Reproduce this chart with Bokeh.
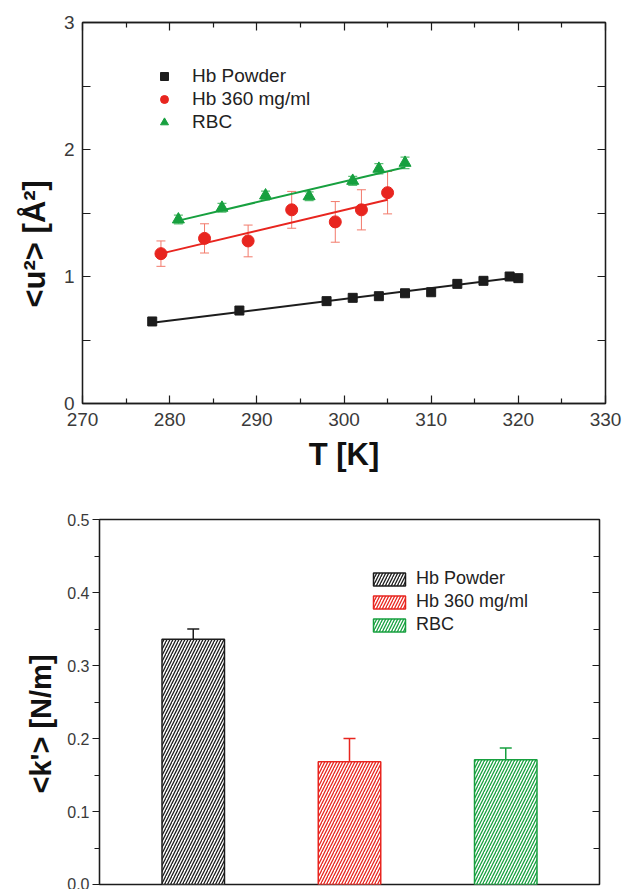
import math
from bokeh.plotting import figure
from bokeh.models import (ColumnDataSource, Whisker, TeeHead, Legend, LegendItem,
                          LinearAxis, Range1d, FixedTicker, PrintfTickFormatter, Title, Spacer)
from bokeh.layouts import column, row
from bokeh.embed import file_html
from bokeh.resources import INLINE

FONT = "Liberation Sans"
BLACK = "#1c1c1c"
RED = "#e8251f"
GREEN = "#17a03f"
RED_ERR = "#f27a6b"
GREEN_ERR = "#5cbf75"
TICK_COLOR = "#3a3a3a"

# ---------------- data: top panel ----------------
T_powder = [278, 288, 298, 301, 304, 307, 310, 313, 316, 319, 320]
u2_powder = [0.646, 0.732, 0.806, 0.832, 0.845, 0.868, 0.876, 0.942, 0.966, 1.000, 0.987]

T_hb360 = [279, 284, 289, 294, 299, 302, 305]
u2_hb360 = [1.18, 1.30, 1.28, 1.525, 1.43, 1.525, 1.66]
err_hb360 = [0.10, 0.115, 0.125, 0.145, 0.16, 0.158, 0.167]

T_rbc = [281, 286, 291, 296, 301, 304, 307]
u2_rbc = [1.449, 1.541, 1.638, 1.632, 1.753, 1.848, 1.895]
err_rbc = [0.035, 0.035, 0.035, 0.035, 0.035, 0.04, 0.045]

fit_T_powder = [278, 319.5]
fit_u2_powder = [0.635, 0.99]
fit_T_hb360 = [279, 305]
fit_u2_hb360 = [1.18, 1.605]
fit_T_rbc = [281, 307]
fit_u2_rbc = [1.44, 1.86]

x_ticks_top = [270, 280, 290, 300, 310, 320, 330]
x_minor_top = [275, 285, 295, 305, 315, 325]
y_ticks_top = [0, 1, 2, 3]
y_minor_top = [0.5, 1.5, 2.5]

# ---------------- data: bottom panel ----------------
categories = ["Hb Powder", "Hb 360 mg/ml", "RBC"]
k_values = [0.336, 0.168, 0.171]
k_err = [0.014, 0.032, 0.016]
y_ticks_bot = [0.0, 0.1, 0.2, 0.3, 0.4, 0.5]
y_minor_bot = [0.05, 0.15, 0.25, 0.35, 0.45]


def style_axis(ax, font_size="19px"):
    ax.axis_line_color = BLACK
    ax.axis_line_width = 1.3
    ax.major_tick_line_color = BLACK
    ax.minor_tick_line_color = BLACK
    ax.major_tick_line_width = 1.2
    ax.minor_tick_line_width = 1.2
    ax.major_label_text_font = FONT
    ax.major_label_text_font_size = font_size
    ax.major_label_text_color = TICK_COLOR


def mirror_axis(ticker, ticks, major_in, minor_in):
    ax = LinearAxis(ticker=ticker, major_label_standoff=0,
                    major_label_overrides={t: "" for t in ticks})
    style_axis(ax)
    ax.major_tick_in = major_in
    ax.major_tick_out = 0
    ax.minor_tick_in = minor_in
    ax.minor_tick_out = 0
    return ax


# ================= top figure =================
p1 = figure(width=622, height=480, x_range=Range1d(270, 330), y_range=Range1d(0, 3),
            output_backend="svg", toolbar_location=None,
            min_border_left=82, min_border_right=17, min_border_top=22, min_border_bottom=77)
p1.xgrid.visible = False
p1.ygrid.visible = False
p1.outline_line_color = BLACK
p1.outline_line_width = 1.3
p1.background_fill_color = "white"
p1.border_fill_color = "white"

xt = FixedTicker(ticks=x_ticks_top, minor_ticks=x_minor_top)
yt = FixedTicker(ticks=y_ticks_top, minor_ticks=y_minor_top)

xa = p1.xaxis[0]
xa.ticker = xt
style_axis(xa)
xa.major_tick_in = 8
xa.major_tick_out = 0
xa.minor_tick_in = 5
xa.minor_tick_out = 0
xa.major_label_standoff = 9
xa.axis_label = "T [K]"
xa.axis_label_text_font = FONT
xa.axis_label_text_font_size = "31px"
xa.axis_label_text_font_style = "bold"
xa.axis_label_text_color = "#111111"
xa.axis_label_standoff = 8

ya = p1.yaxis[0]
ya.ticker = yt
style_axis(ya)
ya.major_tick_in = 8
ya.major_tick_out = 0
ya.minor_tick_in = 8
ya.minor_tick_out = 0
ya.major_label_standoff = 8

p1.add_layout(mirror_axis(xt, x_ticks_top, 8, 5), "above")
p1.add_layout(mirror_axis(yt, y_ticks_top, 8, 8), "right")

# fit lines
p1.line(fit_T_powder, fit_u2_powder, line_color=BLACK, line_width=2)
p1.line(fit_T_hb360, fit_u2_hb360, line_color=RED, line_width=2)
p1.line(fit_T_rbc, fit_u2_rbc, line_color=GREEN, line_width=2)

# error bars
src_hb = ColumnDataSource(dict(x=T_hb360, y=u2_hb360,
                               lo=[u - e for u, e in zip(u2_hb360, err_hb360)],
                               hi=[u + e for u, e in zip(u2_hb360, err_hb360)]))
src_rbc = ColumnDataSource(dict(x=T_rbc, y=u2_rbc,
                                lo=[u - e for u, e in zip(u2_rbc, err_rbc)],
                                hi=[u + e for u, e in zip(u2_rbc, err_rbc)]))
src_pw = ColumnDataSource(dict(x=T_powder, y=u2_powder))

p1.add_layout(Whisker(source=src_hb, base="x", lower="lo", upper="hi",
                      line_color=RED_ERR, line_width=1,
                      upper_head=TeeHead(size=9, line_color=RED_ERR, line_width=1),
                      lower_head=TeeHead(size=9, line_color=RED_ERR, line_width=1)))
p1.add_layout(Whisker(source=src_rbc, base="x", lower="lo", upper="hi",
                      line_color=GREEN_ERR, line_width=1,
                      upper_head=TeeHead(size=9, line_color=GREEN_ERR, line_width=1.2),
                      lower_head=TeeHead(size=9, line_color=GREEN_ERR, line_width=1.2)))

r_pw = p1.scatter("x", "y", source=src_pw, marker="square", size=9,
                  fill_color=BLACK, line_color=BLACK)
r_hb = p1.scatter("x", "y", source=src_hb, marker="circle", size=12,
                  fill_color=RED, line_color=RED)
r_rbc = p1.scatter("x", "y", source=src_rbc, marker="triangle", size=12,
                   fill_color=GREEN, line_color=GREEN)

leg1 = Legend(items=[LegendItem(label=categories[0], renderers=[r_pw]),
                     LegendItem(label=categories[1], renderers=[r_hb]),
                     LegendItem(label=categories[2], renderers=[r_rbc])],
              location=(72, 270), glyph_width=20, glyph_height=20, label_height=20,
              spacing=1, padding=0, margin=0, label_standoff=18,
              border_line_alpha=0, background_fill_alpha=0,
              label_text_font=FONT, label_text_font_size="19px",
              label_text_color="#222222")
p1.add_layout(leg1)

p1.add_layout(Title(text="<u²> [Å²]", align="left", offset=96, standoff=15,
                    vertical_align="middle",
                    text_font=FONT, text_font_size="31px", text_font_style="bold",
                    text_color="#111111"), "left")

# ================= bottom figure =================
p2 = figure(width=612, height=409, x_range=Range1d(0.4, 3.6), y_range=Range1d(0, 0.5),
            output_backend="svg", toolbar_location=None,
            min_border_left=89, min_border_right=23, min_border_top=39, min_border_bottom=5)
p2.xgrid.visible = False
p2.ygrid.visible = False
p2.xaxis.visible = False
p2.outline_line_color = BLACK
p2.outline_line_width = 1.3
p2.border_fill_color = "white"

ytb = FixedTicker(ticks=y_ticks_bot, minor_ticks=y_minor_bot)
ya2 = p2.yaxis[0]
ya2.ticker = ytb
ya2.formatter = PrintfTickFormatter(format="%.1f")
style_axis(ya2, "16px")
ya2.major_tick_in = 0
ya2.major_tick_out = 7
ya2.minor_tick_in = 0
ya2.minor_tick_out = 5
ya2.major_label_standoff = 3

p2.add_layout(mirror_axis(ytb, y_ticks_bot, 7, 6), "right")

bar_colors = [BLACK, RED, GREEN]
positions = [i + 1 for i in range(len(categories))]
src_bar = ColumnDataSource(dict(x=positions, top=k_values, cat=categories, color=bar_colors,
                                lo=[v - e for v, e in zip(k_values, k_err)],
                                hi=[v + e for v, e in zip(k_values, k_err)]))
bars = p2.vbar(x="x", top="top", width=0.4, bottom=0, source=src_bar,
               fill_color="white", line_color="color", line_width=1.5,
               hatch_pattern="/", hatch_color="color", hatch_scale=6, hatch_weight=1.3)
p2.add_layout(Whisker(source=src_bar, base="x", lower="lo", upper="hi",
                      line_color="color", line_width=1.5,
                      upper_head=TeeHead(size=12, line_color="color", line_width=1.5),
                      lower_head=TeeHead(size=8, line_color="color", line_width=1.5)))

leg2 = Legend(items=[LegendItem(label=c, renderers=[bars], index=i) for i, c in enumerate(categories)],
              location=(270, 249), glyph_width=40, glyph_height=16, label_height=16,
              spacing=2, padding=0, margin=0, label_standoff=7,
              border_line_alpha=0, background_fill_alpha=0,
              label_text_font=FONT, label_text_font_size="18px",
              label_text_color="#222222")
p2.add_layout(leg2)

p2.add_layout(Title(text="<k'> [N/m]", align="left", offset=91, standoff=14,
                    vertical_align="middle",
                    text_font=FONT, text_font_size="29px", text_font_style="bold",
                    text_color="#111111"), "left")

layout = column(p1, row(Spacer(width=10, height=409), p2), spacing=0)
open("out.html", "w").write(file_html(layout, INLINE))
